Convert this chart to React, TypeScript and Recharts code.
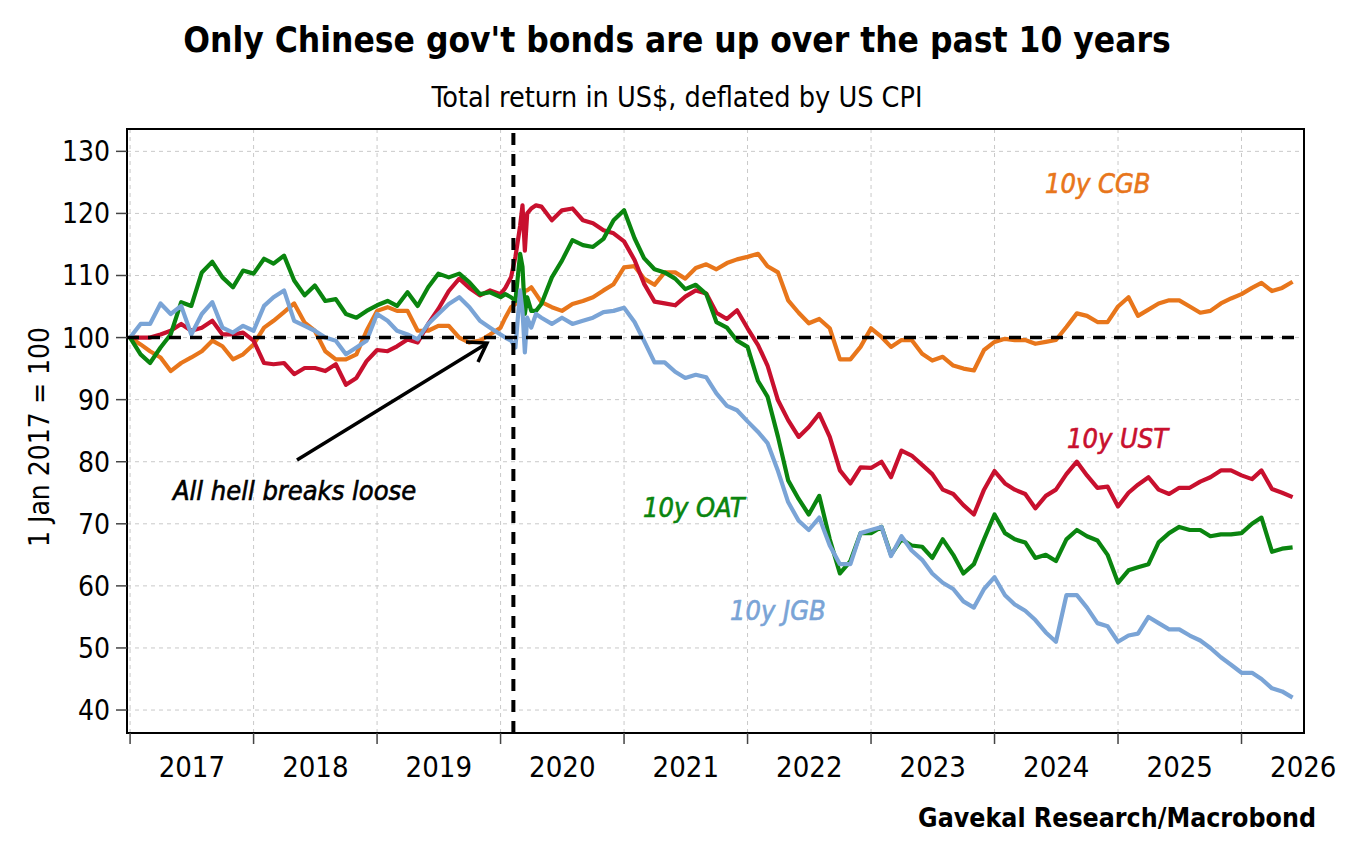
import React from 'react';
import { LineChart, Line, XAxis, YAxis, CartesianGrid, ReferenceLine, ReferenceArea } from 'recharts';

// ---- categories (observation dates) ----
const dates: string[] = [
  '2017-01', '2017-02', '2017-03', '2017-04', '2017-05', '2017-06', '2017-07', '2017-08', '2017-09', '2017-10', '2017-11', '2017-12',
  '2018-01', '2018-02', '2018-03', '2018-04', '2018-05', '2018-06', '2018-07', '2018-08', '2018-09', '2018-10', '2018-11', '2018-12',
  '2019-01', '2019-02', '2019-03', '2019-04', '2019-05', '2019-06', '2019-07', '2019-08', '2019-09', '2019-10', '2019-11', '2019-12',
  '2020-01', '2020-01-15', '2020-02-01', '2020-02-14', '2020-02-28', '2020-03-06', '2020-03-13', '2020-03-20', '2020-04-01', '2020-04-15', '2020-05-01',
  '2020-06', '2020-07', '2020-08', '2020-09', '2020-10', '2020-11', '2020-12',
  '2021-01', '2021-02', '2021-03', '2021-04', '2021-05', '2021-06', '2021-07', '2021-08', '2021-09', '2021-10', '2021-11', '2021-12',
  '2022-01', '2022-02', '2022-03', '2022-04', '2022-05', '2022-06', '2022-07', '2022-08', '2022-09', '2022-10', '2022-11', '2022-12',
  '2023-01', '2023-02', '2023-03', '2023-04', '2023-05', '2023-06', '2023-07', '2023-08', '2023-09', '2023-10', '2023-11', '2023-12',
  '2024-01', '2024-02', '2024-03', '2024-04', '2024-05', '2024-06', '2024-07', '2024-08', '2024-09', '2024-10', '2024-11', '2024-12',
  '2025-01', '2025-02', '2025-03', '2025-04', '2025-05', '2025-06', '2025-07', '2025-08', '2025-09', '2025-10', '2025-11', '2025-12',
  '2026-01', '2026-02', '2026-03', '2026-04', '2026-05', '2026-06',
];

// ---- series values (1 Jan 2017 = 100) ----
const cgb: number[] = [
  100, 98.9, 97.8, 96.8, 94.6, 95.9, 96.8, 97.8, 99.5, 98.6, 96.5, 97.3,
  98.9, 101.6, 102.7, 104.1, 105.5, 102.4, 101.1, 97.8, 96.5, 96.5, 97.3, 101.1,
  104.3, 104.9, 104.3, 104.3, 101.1, 101.1, 101.9, 101.9, 100, 99.2, 99.5, 100.5,
  101.6, 103.2, 104.9, 105.4, 105.9, 105.9, 107.6, 107.6, 108.1, 107, 105.7,
  104.9, 104.3, 105.4, 105.9, 106.5, 107.6, 108.6,
  111.3, 111.5, 109.5, 108.5, 110.5, 110.5, 109.5, 111.2, 111.8, 111, 112, 112.6,
  113, 113.5, 111.5, 110.5, 106, 104, 102.3, 103, 101.5, 96.5, 96.5, 98.5,
  101.5, 100.1, 98.5, 99.6, 99.6, 97.4, 96.3, 96.9, 95.5, 95, 94.7, 98,
  99.3, 99.8, 99.6, 99.6, 99, 99.3, 99.6, 101.7, 103.9, 103.5, 102.5, 102.5,
  105, 106.5, 103.5, 104.5, 105.5, 106, 106, 105, 104, 104.3, 105.5, 106.3,
  107, 108, 108.8, 107.5, 108, 109,
];
const ust: number[] = [
  100, 100, 100, 100.5, 101.1, 102.2, 101.1, 101.6, 102.7, 100.5, 100.5, 100.8,
  99.5, 95.9, 95.7, 95.9, 94.1, 95.1, 95.1, 94.6, 95.7, 92.4, 93.5, 96.2,
  98, 97.8, 98.6, 99.7, 99.2, 102.2, 104.6, 107.5, 109.5, 108, 106.8, 107.6,
  107, 108, 109.7, 113, 118, 121.3, 114, 120, 120.8, 121.3, 121.1,
  118.9, 120.5, 120.8, 118.9, 118.4, 117.3, 116.8,
  115.5, 112.5, 108.7, 105.8, 105.5, 105.2, 106.6, 107.6, 107.1, 104, 103, 104.4,
  101.5, 98.8, 95.5, 89.9, 86.7, 84, 85.6, 87.7, 84, 78.6, 76.5, 79.1,
  79, 80, 77.5, 81.8, 81, 79.5, 78, 75.5, 74.8, 73, 71.5, 75.5,
  78.5, 76.5, 75.5, 74.8, 72.5, 74.5, 75.5, 78, 80, 77.8, 75.8, 76,
  72.8, 75, 76.3, 77.5, 75.5, 74.8, 75.8, 75.8, 76.8, 77.5, 78.6, 78.6,
  77.8, 77.2, 78.6, 75.6, 75, 74.3,
];
const oat: number[] = [
  100, 97.3, 95.9, 98.4, 100.5, 105.7, 105.1, 110.5, 112.2, 109.7, 108.1, 110.8,
  110.3, 112.7, 111.9, 113.2, 109.2, 106.8, 108.4, 105.9, 106.2, 103.8, 103.2, 104.3,
  105.2, 105.9, 105.1, 107.3, 105.1, 108.1, 110.3, 109.7, 110.3, 108.9, 107, 107.3,
  106.5, 107, 106.5, 105.9, 113.5, 111.4, 103.8, 106.5, 104.3, 104.3, 105.4,
  109.7, 112.4, 115.7, 114.9, 114.6, 115.9, 118.9,
  120.5, 116, 112.8, 111, 110.5, 109.5, 107.8, 108.5, 107, 102.5, 101.6, 99.5,
  98.5, 93, 90.5, 84, 77, 74, 71.5, 74.5, 67.5, 62, 64, 68.5,
  68.5, 69.5, 65, 67.5, 66.5, 66.3, 64.5, 67.5, 65, 62, 63.5, 67.5,
  71.5, 68.5, 67.5, 67, 64.5, 65, 64, 67.5, 69, 68, 67.3, 65,
  60.5, 62.5, 63, 63.5, 67, 68.5, 69.5, 69, 69, 68, 68.3, 68.3,
  68.5, 70, 71, 65.5, 66, 66.2,
];
const jgb: number[] = [
  100, 102.2, 102.2, 105.5, 103.8, 105.1, 100.5, 103.8, 105.7, 101.6, 100.8, 101.9,
  101.1, 105.1, 106.5, 107.6, 102.7, 101.9, 101.1, 100, 99.5, 97.3, 98.4, 99.5,
  103.8, 102.7, 101.1, 100.5, 99.7, 102.2, 103.8, 105.4, 106.5, 104.9, 102.7, 101.6,
  100.5, 100, 99.5, 98.4, 107.6, 104.3, 97.6, 103.2, 101.6, 103.8, 103.2,
  102.2, 103.2, 102.2, 102.7, 103.2, 104.1, 104.3,
  104.8, 102.5, 99.5, 96, 96, 94.5, 93.5, 94, 93.6, 91, 89, 88.3,
  86.5, 84.8, 83, 78.5, 73.5, 70.5, 69, 71, 66.5, 63.5, 63.5, 68.5,
  69, 69.5, 64.8, 68, 65.7, 64.2, 62, 60.5, 59.5, 57.5, 56.5, 59.5,
  61.4, 58.5, 57, 56, 54.5, 52.5, 51, 58.5, 58.5, 56.5, 54, 53.5,
  51, 52, 52.3, 55, 54, 53, 53, 52, 51.2, 50, 48.5, 47.3,
  46, 46, 45, 43.5, 43, 42,
];

// ---- ticks ----
const yearTicks: number[] = [2017, 2018, 2019, 2020, 2021, 2022, 2023, 2024, 2025, 2026];
const yearLabels: string[] = ['2017', '2018', '2019', '2020', '2021', '2022', '2023', '2024', '2025', '2026'];
const valueTicks: number[] = [40, 50, 60, 70, 80, 90, 100, 110, 120, 130];
const eventDate = '2020-02-08';

const COLORS = { cgb: '#E8761B', ust: '#C8102E', oat: '#0A850F', jgb: '#7AA4D6' };
const FONT = '"Liberation Sans Narrow", "Arial Narrow", "DejaVu Sans Condensed", "Roboto Condensed", "Open Sans", sans-serif';

const W = 1354;
const H = 846;
const PLOT_L = 127;
const PLOT_R = 1304;
const PLOT_T = 129;
const PLOT_B = 733;
const X_MIN = 2016.975;
const X_MAX = 2026.506;
const Y_MIN = 36.3;
const Y_MAX = 133.6;
const Y_AXIS_W = 70;
const X_AXIS_H = 70;
const LINE_W = 4.2;

const toYear = (s: string): number => {
  const [y, m, d] = s.split('-').map(Number);
  const ms = Date.UTC(y, m - 1, d || 1);
  const y0 = Date.UTC(y, 0, 1);
  const y1 = Date.UTC(y + 1, 0, 1);
  return y + (ms - y0) / (y1 - y0);
};

const table = dates.map((d, i) => ({ t: toYear(d), cgb: cgb[i], ust: ust[i], oat: oat[i], jgb: jgb[i] }));

const halfYearPx = (PLOT_R - PLOT_L) / (X_MAX - X_MIN) / 2;

const XTick = (props: any) => {
  const { x, y, payload } = props;
  const idx = yearTicks.indexOf(payload.value);
  return (
    <text x={x + halfYearPx} y={y + 33} textAnchor="middle" fontSize={29} fontFamily={FONT} fill="#000">
      {idx >= 0 ? yearLabels[idx] : ''}
    </text>
  );
};

const abs = (o: React.CSSProperties): React.CSSProperties => ({ position: 'absolute', whiteSpace: 'nowrap', fontFamily: FONT, lineHeight: 1, ...o });
const note = (color: string, left: number, top: number): React.CSSProperties =>
  abs({ left, top, fontSize: 27, fontStyle: 'italic', color, WebkitTextStroke: `0.6px ${color}` } as React.CSSProperties);

export default function App() {
  return (
    <div style={{ position: 'absolute', left: 0, top: 0, width: W, height: H, background: '#fff', overflow: 'hidden' }}>
      <LineChart
        width={W}
        height={H}
        data={table}
        margin={{ top: PLOT_T, right: W - PLOT_R, bottom: H - PLOT_B - X_AXIS_H, left: PLOT_L - Y_AXIS_W }}
      >
        <CartesianGrid stroke="#c9c9c9" strokeDasharray="4 4" strokeWidth={1} />
        <XAxis
          dataKey="t"
          type="number"
          domain={[X_MIN, X_MAX]}
          ticks={yearTicks}
          interval={0}
          allowDataOverflow
          height={X_AXIS_H}
          tickSize={11}
          tickMargin={0}
          tickLine={{ stroke: '#444', strokeWidth: 1.5 }}
          axisLine={{ stroke: '#000', strokeWidth: 2 }}
          tick={<XTick />}
        />
        <YAxis
          type="number"
          domain={[Y_MIN, Y_MAX]}
          ticks={valueTicks}
          interval={0}
          allowDataOverflow
          width={Y_AXIS_W}
          tickSize={11}
          tickMargin={6}
          tickLine={{ stroke: '#444', strokeWidth: 1.5 }}
          axisLine={{ stroke: '#000', strokeWidth: 2 }}
          tick={{ fontSize: 28, fill: '#000', fontFamily: FONT }}
        />
        <ReferenceArea x1={X_MIN} x2={X_MAX} y1={Y_MIN} y2={Y_MAX} fill="none" stroke="#000" strokeWidth={2} fillOpacity={0} />
        <Line type="linear" dataKey="cgb" stroke={COLORS.cgb} strokeWidth={LINE_W} strokeLinejoin="round" dot={false} isAnimationActive={false} />
        <Line type="linear" dataKey="ust" stroke={COLORS.ust} strokeWidth={LINE_W} strokeLinejoin="round" dot={false} isAnimationActive={false} />
        <Line type="linear" dataKey="oat" stroke={COLORS.oat} strokeWidth={LINE_W} strokeLinejoin="round" dot={false} isAnimationActive={false} />
        <Line type="linear" dataKey="jgb" stroke={COLORS.jgb} strokeWidth={LINE_W} strokeLinejoin="round" dot={false} isAnimationActive={false} />
        <ReferenceLine y={100} stroke="#000" strokeWidth={3.5} strokeDasharray="12 9" />
        <ReferenceLine x={toYear(eventDate)} stroke="#000" strokeWidth={4} strokeDasharray="12 9" />
      </LineChart>

      <svg width={W} height={H} style={{ position: 'absolute', left: 0, top: 0, pointerEvents: 'none' }}>
        <line x1={297} y1={460} x2={486} y2={344} stroke="#000" strokeWidth={3.5} />
        <polyline points="466,342 487,343 478,362" fill="none" stroke="#000" strokeWidth={3.5} />
      </svg>

      <div style={abs({ left: 0, width: W, top: 23, textAlign: 'center', fontSize: 35, fontWeight: 700, color: '#000' })}>
        Only Chinese gov't bonds are up over the past 10 years
      </div>
      <div style={abs({ left: 0, width: W, top: 84, textAlign: 'center', fontSize: 28.5, color: '#000' })}>
        Total return in US$, deflated by US CPI
      </div>
      <div style={abs({ left: 40, top: 437, fontSize: 28, color: '#000', transform: 'translate(-50%, -50%) rotate(-90deg)' })}>
        1 Jan 2017 = 100
      </div>
      <div style={abs({ right: W - 1316, top: 805, fontSize: 26.5, fontWeight: 700, color: '#000' })}>
        Gavekal Research/Macrobond
      </div>

      <div style={note(COLORS.cgb, 1045, 170)}>10y CGB</div>
      <div style={note(COLORS.ust, 1067, 425)}>10y UST</div>
      <div style={note(COLORS.oat, 643, 494)}>10y OAT</div>
      <div style={note(COLORS.jgb, 730, 597)}>10y JGB</div>
      <div style={note('#000', 173, 477)}>All hell breaks loose</div>
    </div>
  );
}
